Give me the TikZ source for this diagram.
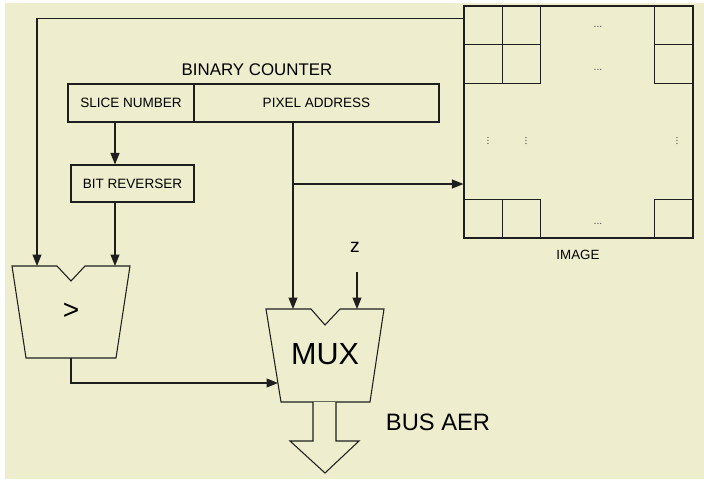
\documentclass[tikz,border=0pt]{standalone}
\usepackage{fontspec}
\setmainfont{Liberation Sans}
\usetikzlibrary{arrows.meta,positioning,calc}
\definecolor{paper}{HTML}{EEEDCD}
\definecolor{ink}{HTML}{1E1E1E}
\tikzset{
  regbox/.style={draw=ink,line width=0.6pt,inner sep=0pt,
                 font=\fontsize{7.7}{9}\selectfont},
  cellbox/.style={draw=ink,line width=0.7pt,inner sep=0pt,
                  minimum width=0.77cm,minimum height=0.77cm},
  unitshape/.style={draw=ink,fill=paper,line width=0.6pt,line join=miter},
  wire/.style={draw=ink,line width=0.6pt},
  wirearr/.style={-{Triangle[length=2.3mm,width=1.8mm]},line width=0.6pt,draw=ink},
  dotlab/.style={font=\fontsize{6}{6}\selectfont,inner sep=0pt,text=ink!80}
}
\begin{document}
\begin{tikzpicture}[x=0.02cm,y=-0.02cm]
  \useasboundingbox (0,0) rectangle (704,480);
  \fill[paper] (5,3) rectangle (704,479);
  \node[regbox,minimum width=2.52cm,minimum height=0.76cm] (slice) at (131,103) {SLICE NUMBER};
  \node[regbox,minimum width=4.9cm,minimum height=0.76cm] (pix) at (316.5,103) {PIXEL ADDRESS};
  \node[font=\fontsize{9.6}{11}\selectfont] (cnt) at (257,70) {BINARY COUNTER};
  \node[regbox,minimum width=2.46cm,minimum height=0.74cm] (bitr) at (132.5,183.5) {BIT REVERSER};
  \node[draw=ink,line width=0.7pt,minimum width=4.58cm,minimum height=4.64cm,inner sep=0pt] (img) at (578.5,122) {};
  \foreach \cx/\cy [count=\i] in {483/25.5,521.5/25.5,483/64,521.5/64,674/25.5,674/64,483/218.5,521.5/218.5,674/218.5} {
    \node[cellbox] (cell\i) at (\cx,\cy) {};
  }
  \foreach \dy in {27,70,224} {
    \node[dotlab] (hd\dy) at (598,\dy) {...};
  }
  \foreach \dx in {488,526,677} {
    \node[dotlab,rotate=90] (vd\dx) at (\dx,141) {...};
  }
  \node[font=\fontsize{7.6}{9}\selectfont] (imglab) at (578,255) {IMAGE};
  \draw[unitshape] (12,266) -- (57,266) -- (71,281) -- (85,266) -- (130,266)
    -- (116,358) -- (26,358) -- cycle;
  \node[font=\fontsize{16}{18}\selectfont] (cmp) at (71,311) {>};
  \coordinate (cmpl) at (37,266);
  \coordinate (cmpr) at (115,266);
  \coordinate (cmpo) at (71,358);
  \draw[unitshape] (266,309) -- (311,309) -- (325,325) -- (340,309) -- (384,309)
    -- (370,402) -- (281,402) -- cycle;
  \node[font=\fontsize{17.4}{20}\selectfont] (mux) at (325,354) {MUX};
  \coordinate (muxl) at (293,309);
  \coordinate (muxr) at (357,309);
  \coordinate (muxw) at (278,383);
  \draw[unitshape] (313,402) -- (313,441) -- (290,441) -- (325,473) -- (359,441)
    -- (336,441) -- (336,402);
  \node[font=\fontsize{13.5}{16}\selectfont] (bus) at (438,422) {BUS AER};
  \node[font=\fontsize{11}{13}\selectfont] (zlab) at (355,247) {z};
  \coordinate (zin) at (357,272);
  \coordinate (tap) at (293,184);
  \draw[wirearr] ($(img.north west)+(0,13)$) -| (cmpl);
  \draw[wirearr] (slice.south -| cmpr) -- (bitr.north -| cmpr);
  \draw[wirearr] (bitr.south -| cmpr) -- (cmpr);
  \draw[wirearr] (pix.south -| muxl) -- (muxl);
  \draw[wirearr] (tap) -- (tap -| img.west);
  \draw[wirearr] (zin) -- (muxr);
  \draw[wirearr] (cmpo) |- (muxw);
\end{tikzpicture}
\end{document}
